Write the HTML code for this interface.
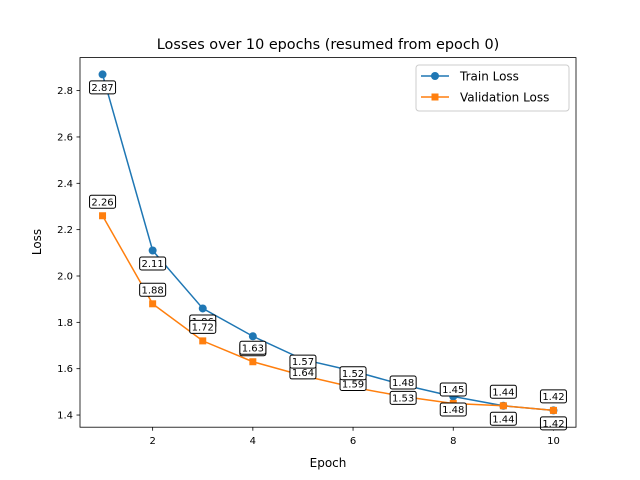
<!DOCTYPE html>
<html><head><meta charset="utf-8"><style>
body{margin:0;background:#fff;}
svg{display:block;font-family:"DejaVu Sans","Liberation Sans",sans-serif;}
</style></head><body>
<svg id="chart" width="640" height="480" viewBox="0 0 640 480">
<rect width="640" height="480" fill="#fff"/>
<text x="328" y="49" text-anchor="middle" font-size="14.4">Losses over 10 epochs (resumed from epoch 0)</text>
<g id="grid"></g>
<g id="lines"></g>
<g id="labels"></g>
<rect x="80" y="57.6" width="496" height="369.6" fill="none" stroke="#000" stroke-width="0.8"/>
<text x="328" y="467" text-anchor="middle" font-size="12">Epoch</text>
<text transform="translate(41,242) rotate(-90)" text-anchor="middle" font-size="12">Loss</text>
<g>
<rect x="416" y="65" width="153" height="46" rx="3" fill="#fff" fill-opacity="0.8" stroke="#ccc"/>
<g>
<line x1="421" y1="76" x2="449" y2="76" stroke="#1f77b4" stroke-width="1.5"/>
<circle cx="435" cy="76" r="4" fill="#1f77b4"/>
<text x="460" y="80.5" font-size="12">Train Loss</text></g>
<g>
<line x1="421" y1="97" x2="449" y2="97" stroke="#ff7f0e" stroke-width="1.5"/>
<rect x="431.5" y="93.5" width="7" height="7" fill="#ff7f0e"/>
<text x="460" y="101.5" font-size="12">Validation Loss</text></g>
</g>
</svg>
<script>
const epochs=[1,2,3,4,5,6,7,8,9,10];
const trainLoss=[2.87,2.11,1.86,1.74,1.64,1.59,1.53,1.48,1.44,1.42];
const valLoss=[2.26,1.88,1.72,1.63,1.57,1.52,1.48,1.45,1.44,1.42];
const xTicks=[2,4,6,8,10];
const yTicks=[1.4,1.6,1.8,2.0,2.2,2.4,2.6,2.8];
const NS="http://www.w3.org/2000/svg";
const X0=80,X1=576,Y0=427.2,Y1=57.6;
const xmin=0.55,xmax=10.45;
const ally=trainLoss.concat(valLoss);
const dmin=Math.min(...ally),dmax=Math.max(...ally),pad=(dmax-dmin)*0.05;
const ymin=dmin-pad,ymax=dmax+pad;
const sx=v=>X0+(v-xmin)/(xmax-xmin)*(X1-X0);
const sy=v=>Y0-(v-ymin)/(ymax-ymin)*(Y0-Y1);
function mk(t,a,p){const e=document.createElementNS(NS,t);for(const k in a)e.setAttribute(k,a[k]);p.appendChild(e);return e;}
const grid=document.getElementById('grid');
xTicks.forEach(v=>{
  const g=mk('g',{},grid);
  
  
  mk('line',{x1:sx(v),x2:sx(v),y1:Y0,y2:Y0+3.5,stroke:'#000','stroke-width':0.8},g);
  const t=mk('text',{x:sx(v),y:Y0+17,'text-anchor':'middle','font-size':10},g);t.textContent=v;
});
yTicks.forEach(v=>{
  const g=mk('g',{},grid);
  
  
  mk('line',{x1:X0-3.5,x2:X0,y1:sy(v),y2:sy(v),stroke:'#000','stroke-width':0.8},g);
  const t=mk('text',{x:X0-7,y:sy(v)+3.5,'text-anchor':'end','font-size':10},g);t.textContent=v.toFixed(1);
});
const lines=document.getElementById('lines'),labels=document.getElementById('labels');
function series(vals,color,marker,name){
  const g=mk('g',{},lines);
  
  
  mk('polyline',{points:vals.map((v,i)=>sx(epochs[i])+','+sy(v)).join(' '),fill:'none',stroke:color,'stroke-width':1.5},g);
  vals.forEach((v,i)=>{
    let m;
    if(marker==='o')m=mk('circle',{cx:sx(epochs[i]),cy:sy(v),r:4,fill:color},g);
    else m=mk('rect',{x:sx(epochs[i])-3.5,y:sy(v)-3.5,width:7,height:7,fill:color},g);
    
    
  });
}
function annot(vals,dy,name){
  vals.forEach((v,i)=>{
    const cx=sx(epochs[i]),cy=sy(v)+dy;
    const g=mk('g',{},labels);
    
    
    mk('rect',{x:cx-13,y:cy-6.5,width:26,height:13,rx:2,fill:'#fff',stroke:'#000','stroke-width':1},g);
    const t=mk('text',{x:cx,y:cy+3.6,'text-anchor':'middle','font-size':10},g);t.textContent=v.toFixed(2);
  });
}
series(trainLoss,'#1f77b4','o','train');
series(valLoss,'#ff7f0e','s','validation');
annot(trainLoss,13,'train');
annot(valLoss,-14,'validation');
</script>
</body></html>
